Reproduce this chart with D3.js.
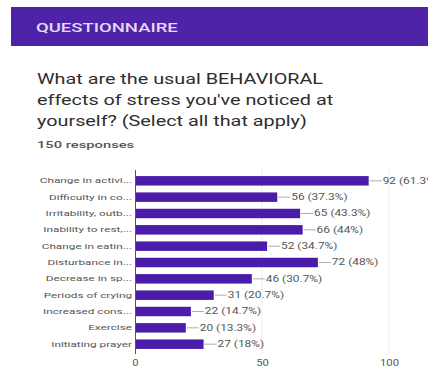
<!DOCTYPE html>
<html>
<head>
<meta charset="utf-8">
<script src="https://cdn.jsdelivr.net/npm/d3@7"></script>
<style>
  html, body { margin: 0; padding: 0; background: #fff; overflow: hidden; }
  svg { display: block; }
</style>
</head>
<body>
<script>
// Survey answers: truncated labels as shown in the response summary
const categories = [
  "Change in activi...",
  "Difficulty in co...",
  "Irritability, outb...",
  "Inability to rest,...",
  "Change in eatin...",
  "Disturbance in...",
  "Decrease in sp...",
  "Periods of crying",
  "Increased cons...",
  "Exercise",
  "Initiating prayer"
];
const counts = [92, 56, 65, 66, 52, 72, 46, 31, 22, 20, 27];
const percentLabels = ["61.3%", "37.3%", "43.3%", "44%", "34.7%", "48%", "30.7%", "20.7%", "14.7%", "13.3%", "18%"];
const xTicks = [0, 50, 100];
const totalResponses = 150;

const W = 428, H = 367;
const svg = d3.select("body").append("svg").attr("width", W).attr("height", H);

// widen text horizontally (the form's typeface is broader than Roboto)
function widen(sel, factor) {
  sel.each(function () {
    const len = this.getComputedTextLength();
    d3.select(this).attr("textLength", len * factor).attr("lengthAdjust", "spacingAndGlyphs");
  });
}

// Section header band
svg.append("rect").attr("x", 11).attr("y", 7).attr("width", W - 11).attr("height", 39)
  .attr("fill", "#4f23a8");
svg.append("text").attr("x", 36).attr("y", 32)
  .attr("font-family", "Roboto, 'Open Sans', sans-serif").attr("font-size", 13.5)
  .attr("font-weight", 500)
  .attr("fill", "#e4d8f6").text("QUESTIONNAIRE")
  .call(widen, 1.37);

// Question title
const titleLines = ["What are the usual BEHAVIORAL", "effects of stress you've noticed at", "yourself? (Select all that apply)"];
svg.append("g").selectAll("text").data(titleLines).join("text")
  .attr("x", 37).attr("y", (d, i) => 84 + i * 21)
  .attr("font-family", "Roboto, 'Open Sans', sans-serif").attr("font-size", 15)
  .attr("fill", "#2e2e2e").text(d => d)
  .call(widen, 1.32);
svg.append("text").attr("x", 37).attr("y", 148)
  .attr("font-family", "Roboto, sans-serif").attr("font-size", 9.5).attr("font-weight", 500)
  .attr("fill", "#555").text(`${totalResponses} responses`)
  .call(widen, 1.55);

// Bar chart
const x = d3.scaleLinear().domain([0, 100]).range([135, 389]);
const y = d3.scaleBand().domain(categories).range([172, 353]).paddingInner(0.42).paddingOuter(0.25);

const chart = svg.append("g");

// vertical gridlines
chart.append("g").selectAll("line").data(xTicks.filter(t => t > 0)).join("line")
  .attr("x1", d => x(d)).attr("x2", d => x(d)).attr("y1", 170).attr("y2", 354)
  .attr("stroke", "#ececec").attr("stroke-width", 1);

chart.append("g").selectAll("rect").data(counts).join("rect")
  .attr("x", x(0)).attr("y", (d, i) => y(categories[i]))
  .attr("width", d => x(d) - x(0)).attr("height", y.bandwidth())
  .attr("fill", "#4a1ca9");

// leader lines and value labels
chart.append("g").selectAll("line").data(counts).join("line")
  .attr("x1", d => x(d) + 1).attr("x2", d => x(d) + 13)
  .attr("y1", (d, i) => y(categories[i]) + y.bandwidth() / 2)
  .attr("y2", (d, i) => y(categories[i]) + y.bandwidth() / 2)
  .attr("stroke", "#999").attr("stroke-width", 0.8);
chart.append("g").selectAll("text").data(counts).join("text")
  .attr("x", d => x(d) + 14)
  .attr("y", (d, i) => y(categories[i]) + y.bandwidth() / 2)
  .attr("dy", "0.35em")
  .attr("font-family", "Roboto, sans-serif").attr("font-size", 8.2)
  .attr("fill", "#555").text((d, i) => `${d} (${percentLabels[i]})`)
  .call(widen, 1.45);

// category axis
const yAxis = chart.append("g").attr("transform", `translate(${x(0)},0)`)
  .call(d3.axisLeft(y).tickSize(0).tickPadding(3));
yAxis.select(".domain").attr("stroke", "#555").attr("d", `M0.5,170V354`);
yAxis.selectAll("text").attr("font-family", "Roboto, sans-serif").attr("font-size", 7.6)
  .attr("fill", "#555").call(widen, 1.55);

// value axis
const xAxis = chart.append("g").attr("transform", "translate(0,354)")
  .call(d3.axisBottom(x).tickValues(xTicks).tickSize(0).tickPadding(6));
xAxis.select(".domain").remove();
xAxis.selectAll("text").attr("font-family", "Roboto, sans-serif").attr("font-size", 8.3)
  .attr("fill", "#555").call(widen, 1.35);
</script>
</body>
</html>
